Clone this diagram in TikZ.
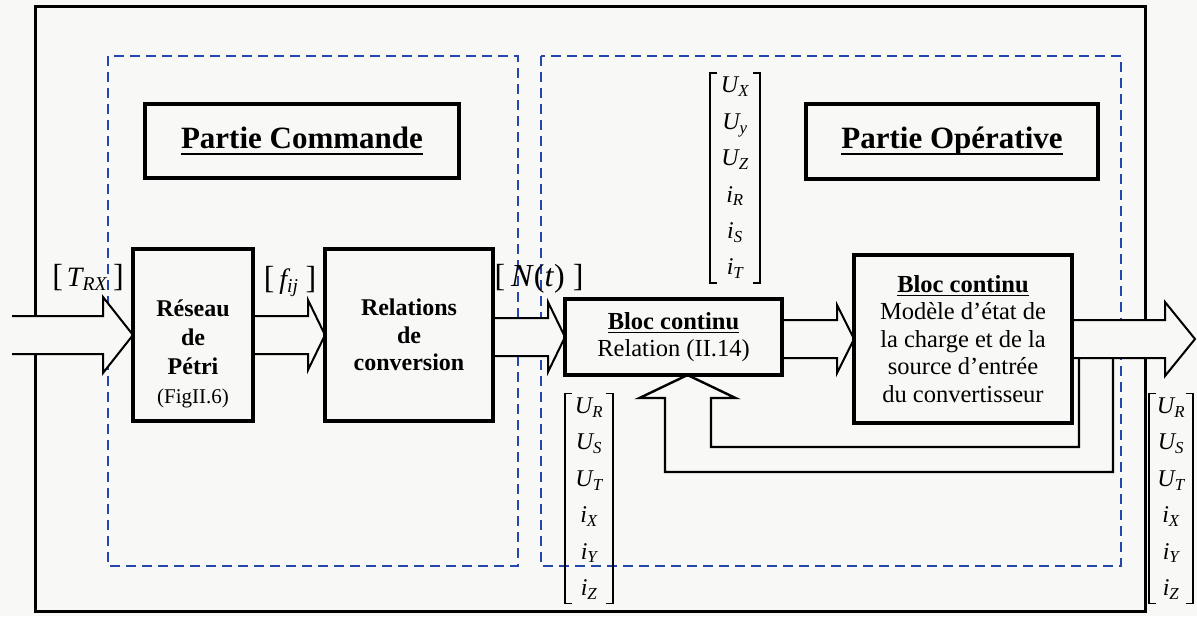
\documentclass[tikz,border=0pt]{standalone}
\usepackage{fontspec}
\setmainfont{Liberation Serif}
\usetikzlibrary{calc}

\definecolor{paper}{RGB}{248,248,247}
\definecolor{zoneblue}{RGB}{35,70,175}

\pgfdeclarelayer{zones}
\pgfdeclarelayer{flows}
\pgfsetlayers{zones,flows,main}

% underlined heading text, rule placed a fixed distance under the baseline
\newsavebox{\ulinebox}
\newcommand{\ulbox}[2][4pt]{%
  \sbox{\ulinebox}{#2}%
  \rlap{\rule[-#1]{\wd\ulinebox}{1.8pt}}\usebox{\ulinebox}}

% hollow block arrow: #1 source anchor, #2 tip, #3 body half-height,
% #4 head half-height, #5 head length
\newcommand{\blockarrow}[5]{%
  \draw[fatarrow] ($(#1 |- #2)+(0,-#3)$) -- ($(#2)+(-#5,-#3)$) -- ($(#2)+(-#5,-#4)$)
    -- (#2) -- ($(#2)+(-#5,#4)$) -- ($(#2)+(-#5,#3)$) -- ($(#1 |- #2)+(0,#3)$);}

% square brackets around a column vector node
\newcommand{\vecbrackets}[1]{%
  \draw[vecbracket] ($(#1.north west)+(7,0)$) -- (#1.north west) -- (#1.south west) -- ($(#1.south west)+(7,0)$);
  \draw[vecbracket] ($(#1.north east)+(-7,0)$) -- (#1.north east) -- (#1.south east) -- ($(#1.south east)+(-7,0)$);}

\newcommand{\sigbr}[1]{{\fontsize{32}{36}\selectfont#1}}

\begin{document}
\begin{tikzpicture}[x=1pt,y=-1pt,
  every node/.style={inner sep=0pt, outer sep=0pt},
  blockbox/.style={draw=black, line width=4pt, fill=paper, rectangle},
  titlebox/.style={draw=black, line width=4pt, rectangle, font=\fontsize{31}{36}\selectfont\bfseries},
  zone/.style={draw=zoneblue, line width=2.8pt, dash pattern=on 10pt off 6pt},
  frame/.style={draw=black, line width=3pt},
  fatarrow/.style={draw=black, line width=2pt, fill=paper, line join=miter},
  feedback/.style={draw=black, line width=2.4pt, fill=paper, line join=miter},
  vecbracket/.style={draw=black, line width=1.1pt},
  vector/.style={align=center, minimum height=210pt, font=\fontsize{24}{36.4}\selectfont\itshape},
]
\useasboundingbox (0,0) rectangle (1197,616);

% ---- titles
\node[titlebox, minimum width=314pt, minimum height=74pt] (pcmd) at (302,141) {\ulbox[6pt]{Partie Commande}};
\node[titlebox, minimum width=292pt, minimum height=75pt] (pope) at (952,141.5) {\ulbox[6pt]{Partie Opérative}};

% ---- blocks
\node[blockbox, minimum width=120pt, minimum height=172pt] (reseau) at (193,335) {};
\node[anchor=north, align=center, font=\fontsize{24}{29}\selectfont\bfseries] (reseautxt) at (193,300)
  {Réseau\\de\\Pétri\\{\fontsize{21}{24}\selectfont\mdseries (FigII.6)}};
\node[blockbox, minimum width=168pt, minimum height=172pt, align=center,
      font=\fontsize{24}{27.5}\selectfont\bfseries] (relconv) at (409,335) {Relations\\de\\conversion};
\node[blockbox, minimum width=217pt, minimum height=76pt, align=center,
      font=\fontsize{24.5}{27}\selectfont] (blocA) at (673.5,337) {{\bfseries\ulbox{Bloc continu}}\\Relation (II.14)};
\node[blockbox, minimum width=218pt, minimum height=168pt, align=center,
      font=\fontsize{24.5}{27.5}\selectfont] (blocB) at (963,339)
  {{\bfseries\ulbox{Bloc continu}}\\Modèle d’état de\\la charge et de la\\source d’entrée\\du convertisseur};

% ---- signal labels
\node[anchor=base] (trx) at (88,286) {\sigbr{[}\hspace{4pt}{\fontsize{28}{30}\selectfont\itshape T\textsubscript{RX}}\hspace{6pt}\sigbr{]}};
\node[anchor=base] (fij) at (290,288) {\sigbr{[}\hspace{5pt}{\fontsize{28}{30}\selectfont\itshape f\textsubscript{ij}}\hspace{7pt}\sigbr{]}};
\node[anchor=base] (nt) at (539,286) {\sigbr{[}\hspace{6pt}{\fontsize{32}{36}\selectfont\itshape N\/\upshape(\itshape t\/\upshape)}\hspace{8pt}\sigbr{]}};

% ---- column vectors
\node[vector, minimum width=50pt] (vtop) at (735,178)
  {U\textsubscript{X}\\U\textsubscript{y}\\U\textsubscript{Z}\\i\textsubscript{R}\\i\textsubscript{S}\\i\textsubscript{T}};
\node[vector, minimum width=48pt] (vmid) at (589,498.5)
  {U\textsubscript{R}\\U\textsubscript{S}\\U\textsubscript{T}\\i\textsubscript{X}\\i\textsubscript{Y}\\i\textsubscript{Z}};
\node[vector, minimum width=44pt] (vout) at (1171,498.5)
  {U\textsubscript{R}\\U\textsubscript{S}\\U\textsubscript{T}\\i\textsubscript{X}\\i\textsubscript{Y}\\i\textsubscript{Z}};
\vecbrackets{vtop}
\vecbrackets{vmid}
\vecbrackets{vout}

% free ends of the input and output flows
\coordinate (in) at (12,335);
\coordinate (out) at (1195,339);
\coordinate (fbtip) at ($(blocA.south)+(14,0)$);

% ---- frame and dashed zones
\begin{pgfonlayer}{zones}
  \fill[paper] (0,0) rectangle (1197,616);
  \draw[frame] (35,6) rectangle (1145,611);
  \draw[zone] (108,56) rectangle (518,566);
  \draw[zone] (541,56) rectangle (1121,566);
\end{pgfonlayer}

% ---- flows
\begin{pgfonlayer}{flows}
  \draw[feedback] (1113,358) -- (1113,472) -- (665,472) -- (665,398) -- ($(fbtip)+(-48,23)$)
    -- (fbtip) -- ($(fbtip)+(48,23)$) -- (711,398) -- (711,447) -- (1079,447) -- (1079,358);
  \blockarrow{in}{reseau.west}{19}{38}{30}
  \blockarrow{reseau.east}{relconv.west}{19}{35}{17}
  \blockarrow{relconv.east}{blocA.west}{19}{35}{17}
  \blockarrow{blocA.east}{blocB.west}{19}{34}{17}
  \blockarrow{blocB.east}{out}{19}{37}{30}
\end{pgfonlayer}
\end{tikzpicture}
\end{document}
